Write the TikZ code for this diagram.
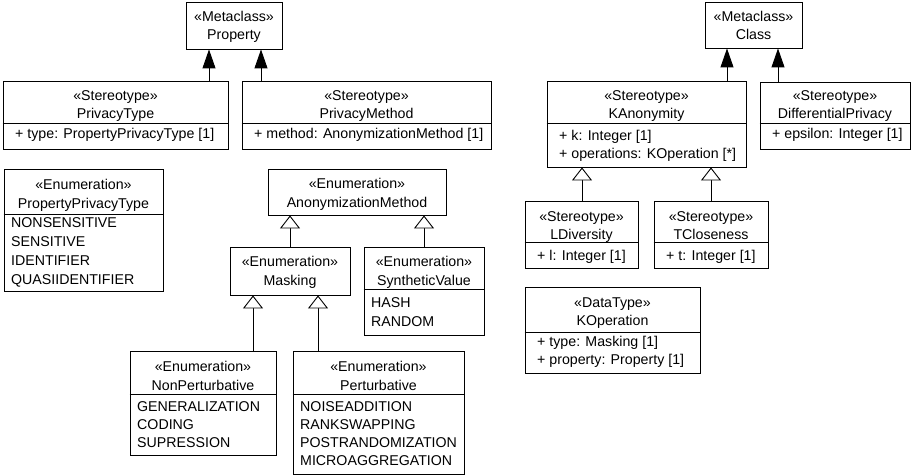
\documentclass[tikz,border=0pt]{standalone}
\usepackage{fontspec}
\setmainfont{Liberation Sans}
\usetikzlibrary{arrows.meta,fit}
\tikzset{
  box/.style={draw, line width=0.9pt, inner sep=0pt, fill=white},
  sepline/.style={line width=0.9pt},
  txt/.style={inner sep=0pt, font=\fontsize{14.2}{17}\selectfont},
  ext/.style={line width=0.9pt, -{Triangle[width=13pt,length=19pt]}},
  gen/.style={line width=0.9pt, -{Triangle[open,width=20pt,length=13pt,fill=white]}},
}
\newcommand\umlBox[5]{\node[box, fit={(#2,#3) (#4,#5)}] (#1) {};}
\newcommand\umlSep[2]{\draw[sepline] (#1.west |- 0,#2) -- (#1.east |- 0,#2);}
\newcommand\umlC[4]{\node[txt, anchor=base] (#1) at (#2,#3) {#4};}
\newcommand\umlL[4]{\node[txt, anchor=base west] (#1) at (#2,#3) {#4};}
\begin{document}
\begin{tikzpicture}[x=1pt,y=-1pt]
\useasboundingbox (0,0) rectangle (912,476);

% Property
\umlBox{prop}{186}{2}{282}{49}
\umlC{prop1}{234}{22}{«Metaclass»}
\umlC{prop2}{234}{40}{Property}

% PrivacyType
\umlBox{pt}{3}{81}{228}{149}
\umlSep{pt}{123.5}
\umlC{pt1}{115.5}{101}{«Stereotype»}
\umlC{pt2}{115.5}{119}{PrivacyType}
\umlL{pt3}{15}{138.5}{+ type: PropertyPrivacyType [1]}

% PrivacyMethod
\umlBox{pm}{242}{81}{491}{149}
\umlSep{pm}{123.5}
\umlC{pm1}{366.5}{101}{«Stereotype»}
\umlC{pm2}{366.5}{119}{PrivacyMethod}
\umlL{pm3}{254}{138.5}{+ method: AnonymizationMethod [1]}

% PropertyPrivacyType
\umlBox{ppt}{4}{169}{163}{291}
\umlSep{ppt}{214}
\umlC{ppt1}{83.5}{189}{«Enumeration»}
\umlC{ppt2}{83.5}{208}{PropertyPrivacyType}
\umlL{ppt3}{11}{227.5}{NONSENSITIVE}
\umlL{ppt4}{11}{246.5}{SENSITIVE}
\umlL{ppt5}{11}{265.5}{IDENTIFIER}
\umlL{ppt6}{11}{284.5}{QUASIIDENTIFIER}

% AnonymizationMethod
\umlBox{am}{268}{169}{446}{215}
\umlC{am1}{357}{188.5}{«Enumeration»}
\umlC{am2}{357}{207.5}{AnonymizationMethod}

% Masking
\umlBox{mask}{230}{247}{350}{295}
\umlC{mask1}{290}{266}{«Enumeration»}
\umlC{mask2}{290}{285}{Masking}

% SyntheticValue
\umlBox{sv}{364}{247}{484}{335}
\umlSep{sv}{289}
\umlC{sv1}{424}{266}{«Enumeration»}
\umlC{sv2}{424}{285}{SyntheticValue}
\umlL{sv3}{371}{307.5}{HASH}
\umlL{sv4}{371}{326.5}{RANDOM}

% NonPerturbative
\umlBox{np}{130}{351}{276}{455}
\umlSep{np}{394}
\umlC{np1}{203}{371.5}{«Enumeration»}
\umlC{np2}{203}{390}{NonPerturbative}
\umlL{np3}{137}{411}{GENERALIZATION}
\umlL{np4}{137}{429}{CODING}
\umlL{np5}{137}{447}{SUPRESSION}

% Perturbative
\umlBox{pb}{293}{351}{464}{474}
\umlSep{pb}{394}
\umlC{pb1}{378.5}{371.5}{«Enumeration»}
\umlC{pb2}{378.5}{390}{Perturbative}
\umlL{pb3}{300}{411}{NOISEADDITION}
\umlL{pb4}{300}{429}{RANKSWAPPING}
\umlL{pb5}{300}{447}{POSTRANDOMIZATION}
\umlL{pb6}{300}{465}{MICROAGGREGATION}

% Class
\umlBox{cls}{705}{2}{802}{48}
\umlC{cls1}{753.5}{22}{«Metaclass»}
\umlC{cls2}{753.5}{40}{Class}

% KAnonymity
\umlBox{ka}{547}{81}{746}{167}
\umlSep{ka}{123}
\umlC{ka1}{646.5}{101}{«Stereotype»}
\umlC{ka2}{646.5}{119}{KAnonymity}
\umlL{ka3}{559}{140}{+ k: Integer [1]}
\umlL{ka4}{559}{158.5}{+ operations: KOperation [*]}

% DifferentialPrivacy
\umlBox{dp}{760}{82}{910.5}{149}
\umlSep{dp}{123}
\umlC{dp1}{835}{101}{«Stereotype»}
\umlC{dp2}{835}{119}{DifferentialPrivacy}
\umlL{dp3}{772}{139}{+ epsilon: Integer [1]}

% LDiversity
\umlBox{ld}{525}{201}{638}{268}
\umlSep{ld}{242}
\umlC{ld1}{581.5}{221}{«Stereotype»}
\umlC{ld2}{581.5}{239}{LDiversity}
\umlL{ld3}{537}{260}{+ l: Integer [1]}

% TCloseness
\umlBox{tcl}{654}{201}{768}{268}
\umlSep{tcl}{242}
\umlC{tcl1}{711}{221}{«Stereotype»}
\umlC{tcl2}{711}{239}{TCloseness}
\umlL{tcl3}{666}{260}{+ t: Integer [1]}

% KOperation
\umlBox{kop}{525}{287}{700}{373}
\umlSep{kop}{332}
\umlC{kop1}{612.5}{307}{«DataType»}
\umlC{kop2}{612.5}{325}{KOperation}
\umlL{kop3}{537}{346}{+ type: Masking [1]}
\umlL{kop4}{537}{364}{+ property: Property [1]}

% Extensions
\draw[ext] (pt.north -| 209,0) -- (prop.south -| 209,0);
\draw[ext] (pm.north -| 261,0) -- (prop.south -| 261,0);
\draw[ext] (ka.north -| 727,0) -- (cls.south -| 727,0);
\draw[ext] (dp.north -| 778,0) -- (cls.south -| 778,0);

% Generalizations
\draw[gen] (mask.north -| 290,0) -- (am.south -| 290,0);
\draw[gen] (sv.north -| 424,0) -- (am.south -| 424,0);
\draw[gen] (np.north -| 253,0) -- (mask.south -| 253,0);
\draw[gen] (pb.north -| 318,0) -- (mask.south -| 318,0);
\draw[gen] (ld.north -| 582,0) -- (ka.south -| 582,0);
\draw[gen] (tcl.north -| 711,0) -- (ka.south -| 711,0);
\end{tikzpicture}
\end{document}
